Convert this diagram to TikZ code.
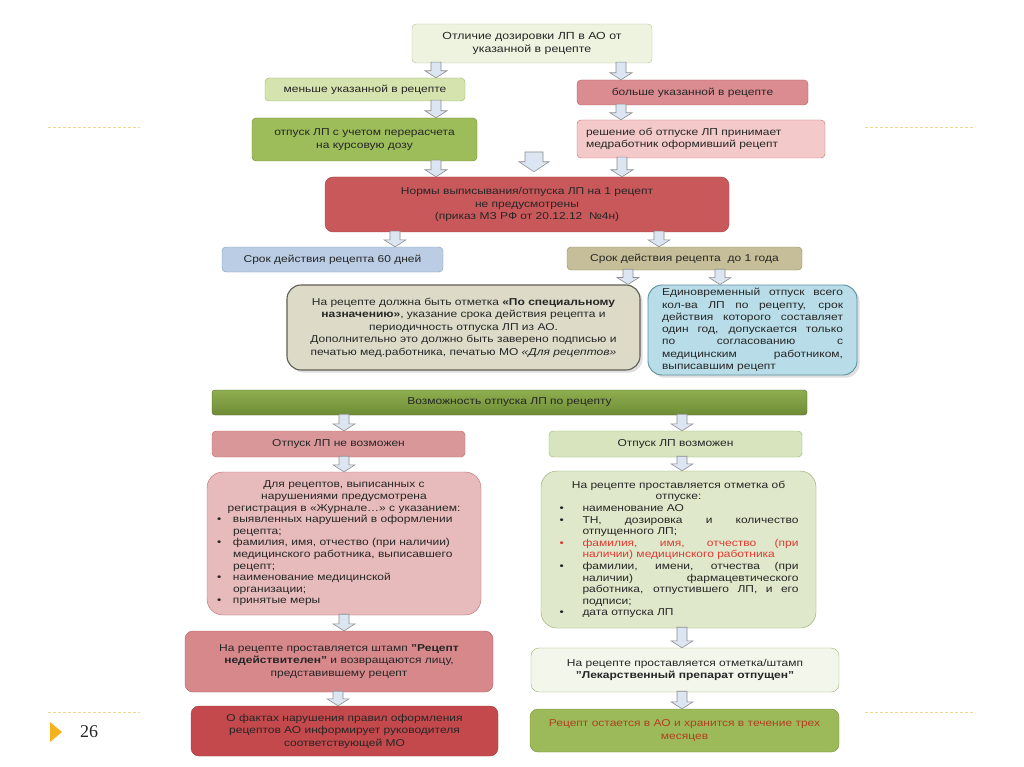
\documentclass[tikz,border=0pt]{standalone}
\usepackage{fontspec}
\setmainfont{Liberation Sans}[FakeStretch=1.2]
\newfontfamily\numfont{Liberation Serif}
\usetikzlibrary{calc,shadows}

\definecolor{textdark}{HTML}{262626}
\definecolor{redtext}{HTML}{E03A32}
\definecolor{brownred}{HTML}{B0401E}
\definecolor{arrowfill}{HTML}{DCE6F2}
\definecolor{arrowline}{HTML}{8C8C8C}
\definecolor{decoline}{HTML}{F0D98C}
\definecolor{marker}{HTML}{F4B21C}
\definecolor{palefill}{HTML}{EEF3E0}
\definecolor{paleline}{HTML}{B5C39A}
\definecolor{lightgreen}{HTML}{D5E3AE}
\definecolor{greenline}{HTML}{9DB26E}
\definecolor{rosefill}{HTML}{DA8C90}
\definecolor{roseline}{HTML}{B55A5E}
\definecolor{greenfill}{HTML}{9DBC5A}
\definecolor{darkgreenline}{HTML}{6E8A36}
\definecolor{pinkfill}{HTML}{F3C9C9}
\definecolor{pinkline}{HTML}{C96A6C}
\definecolor{redfill}{HTML}{C9585B}
\definecolor{redline}{HTML}{A54446}
\definecolor{bluefill}{HTML}{BACDE4}
\definecolor{blueline}{HTML}{7F9BBE}
\definecolor{khakifill}{HTML}{C5BE98}
\definecolor{khakiline}{HTML}{958B57}
\definecolor{stonefill}{HTML}{DDDBC8}
\definecolor{stoneline}{HTML}{5E5E52}
\definecolor{tealfill}{HTML}{B8DDE8}
\definecolor{tealline}{HTML}{5B8F9C}
\definecolor{bartop}{HTML}{8FAE4F}
\definecolor{barbottom}{HTML}{6F8C36}
\definecolor{barline}{HTML}{4F6425}
\definecolor{nofill}{HTML}{DA979A}
\definecolor{noline}{HTML}{B8696C}
\definecolor{yesfill}{HTML}{D7E4BD}
\definecolor{regfill}{HTML}{E7BBBB}
\definecolor{regline}{HTML}{C0686A}
\definecolor{markfill}{HTML}{DFE8CA}
\definecolor{markline}{HTML}{8FA860}
\definecolor{stampfill}{HTML}{D7888B}
\definecolor{stampline}{HTML}{B15F62}
\definecolor{issuedfill}{HTML}{F3F6EA}
\definecolor{reportfill}{HTML}{C4494C}
\definecolor{reportline}{HTML}{9E3A3C}
\definecolor{keptfill}{HTML}{9CBA5A}
\definecolor{keptline}{HTML}{738F3B}

% bullet item with hanging indent
\newcommand{\itm}[1][22pt]{\par\hangindent=#1\hangafter=1\noindent\makebox[#1][l]{\hspace{1pt}\textbullet}\ignorespaces}

% hollow block arrow between two boxes at a given x
\newcommand{\blockarrow}[3]{%
  \path[blockarrow] let \p1=(#1.south -| #3,0), \p2=(#2.north -| #3,0) in
    (\x1-5pt,\y1+1pt) -- (\x1-5pt,\y2+7pt) -- (\x1-11pt,\y2+7pt) -- (\x1,\y2)
    -- (\x1+11pt,\y2+7pt) -- (\x1+5pt,\y2+7pt) -- (\x1+5pt,\y1+1pt) -- cycle;}

\tikzset{
  box/.style={draw, rounded corners=4pt, align=center, inner sep=2pt, text=textdark,
    font=\fontsize{10}{12.5}\selectfont},
  bigbox/.style={box, rounded corners=16pt, font=\fontsize{10}{11.6}\selectfont},
  blockarrow/.style={draw=arrowline, fill=arrowfill, line width=0.6pt},
  deco/.style={draw=decoline, dash pattern=on 3pt off 2pt, line width=0.8pt}
}

\begin{document}
\begin{tikzpicture}[x=1pt, y=-1pt]
  \useasboundingbox[fill=white] (0,0) rectangle (1024,767);

  % slide decoration
  \draw[deco] (48,127) -- (140,127);
  \draw[deco] (865,127) -- (975,127);
  \draw[deco] (48,712) -- (140,712);
  \draw[deco] (865,712) -- (975,712);
  \fill[marker] (50,722) -- (62,732) -- (50,742) -- cycle;
  \node[font=\numfont\fontsize{18}{20}\selectfont, text=textdark] (pagenum) at (89,732) {26};

  % dosage
  \node[box, fill=palefill, draw=paleline, minimum width=240pt, minimum height=39pt,
    font=\fontsize{10.3}{13}\selectfont] (diff) at (532,43.5)
    {Отличие дозировки ЛП в АО от\\ указанной в рецепте};
  \node[box, fill=lightgreen, draw=greenline, minimum width=200pt, minimum height=23pt] (less) at (365,89.5)
    {меньше указанной в рецепте};
  \node[box, fill=rosefill, draw=roseline, minimum width=231pt, minimum height=25pt] (more) at (692.5,92.5)
    {больше указанной в рецепте};
  \node[box, fill=greenfill, draw=darkgreenline, minimum width=225pt, minimum height=43pt] (recalc) at (364.5,139.5)
    {отпуск ЛП с учетом перерасчета\\ на курсовую дозу};
  \node[box, fill=pinkfill, draw=pinkline, minimum width=248pt, minimum height=38pt, text width=230pt, align=left] (decision) at (701,139)
    {решение об отпуске ЛП принимает\\ медработник оформивший рецепт};

  % norms
  \node[box, rounded corners=8pt, fill=redfill, draw=redline, minimum width=404pt, minimum height=55pt] (norms) at (527,204.5)
    {Нормы выписывания/отпуска ЛП на 1 рецепт\\ не предусмотрены\\ (приказ МЗ РФ от 20.12.12 \ №4н)};
  \node[box, fill=bluefill, draw=blueline, minimum width=221pt, minimum height=25pt] (sixty) at (332.5,259.5)
    {Срок действия рецепта 60 дней};
  \node[box, fill=khakifill, draw=khakiline, minimum width=235pt, minimum height=23pt] (year) at (684.5,258.5)
    {Срок действия рецепта \ до 1 года};
  \node[box, rounded corners=14pt, fill=stonefill, draw=stoneline, line width=1.1pt,
    drop shadow={opacity=0.25}, minimum width=353pt, minimum height=85pt] (special) at (463.5,327.5)
    {На рецепте должна быть отметка \textbf{«По специальному}\\
     \textbf{назначению»}, указание срока действия рецепта и\\
     периодичность отпуска ЛП из АО.\\
     Дополнительно это должно быть заверено подписью и\\
     печатью мед.работника, печатью МО \textit{«Для рецептов»}};
  \node[box, rounded corners=14pt, fill=tealfill, draw=tealline, line width=0.9pt,
    drop shadow={opacity=0.25}, minimum width=209pt, minimum height=90pt, text width=181pt, align=justify,
    font=\fontsize{10}{12.3}\selectfont] (once) at (752.5,330)
    {Единовременный отпуск всего\linebreak
     кол-ва ЛП по рецепту, срок\linebreak
     действия которого составляет\linebreak
     один год, допускается только\linebreak
     по согласованию с\linebreak
     медицинским работником,\linebreak
     выписавшим рецепт};

  % dispensing
  \node[box, rounded corners=3pt, top color=bartop, bottom color=barbottom, draw=barline,
    minimum width=595pt, minimum height=25pt] (chance) at (509.5,402.5)
    {Возможность отпуска ЛП по рецепту};
  \node[box, fill=nofill, draw=noline, minimum width=253pt, minimum height=26pt] (denied) at (338.5,444)
    {Отпуск ЛП не возможен};
  \node[box, fill=yesfill, draw=greenline, minimum width=253pt, minimum height=26pt] (allowed) at (675.5,444)
    {Отпуск ЛП возможен};

  \node[bigbox, fill=regfill, draw=regline, minimum width=274pt, minimum height=143pt,
    text width=256pt, align=left] (register) at (344,543.5)
    {{\centering Для рецептов, выписанных с\\ нарушениями предусмотрена\\ регистрация в «Журнале…» с указанием:\par}
     \itm[17pt] выявленных нарушений в оформлении\newline рецепта;
     \itm[17pt] фамилия, имя, отчество (при наличии)\newline медицинского работника, выписавшего\newline рецепт;
     \itm[17pt] наименование медицинской\newline организации;
     \itm[17pt] принятые меры};
  \node[bigbox, fill=markfill, draw=markline, minimum width=275pt, minimum height=157pt,
    text width=240pt, align=justify] (markbox) at (678.5,549.5)
    {{\centering На рецепте проставляется отметка об\\ отпуске:\par}
     \itm[24pt] наименование АО
     \itm[24pt] ТН, дозировка и количество\linebreak отпущенного ЛП;
     \par\color{redtext}\itm[24pt] фамилия, имя, отчество (при\linebreak наличии) медицинского работника
     \par\color{textdark}\itm[24pt] фамилии, имени, отчества (при\linebreak наличии) фармацевтического\linebreak работника, отпустившего ЛП, и его\linebreak подписи;
     \itm[24pt] дата отпуска ЛП};

  \node[box, rounded corners=8pt, fill=stampfill, draw=stampline, minimum width=308pt, minimum height=61pt] (stampbox) at (339,661.5)
    {На рецепте проставляется штамп \textbf{"Рецепт}\\
     \textbf{недействителен"} и возвращаются лицу,\\
     представившему рецепт};
  \node[box, rounded corners=8pt, fill=issuedfill, draw=greenline, minimum width=308pt, minimum height=44pt] (issued) at (685,670)
    {На рецепте проставляется отметка/штамп\\ \textbf{"Лекарственный препарат отпущен"}};
  \node[box, rounded corners=8pt, fill=reportfill, draw=reportline, minimum width=307pt, minimum height=50pt] (report) at (344.5,731)
    {О фактах нарушения правил оформления\\ рецептов АО информирует руководителя\\ соответствующей МО};
  \node[box, rounded corners=8pt, fill=keptfill, draw=keptline, minimum width=309pt, minimum height=43pt,
    text=brownred] (kept) at (684.5,730.5)
    {Рецепт остается в АО и хранится в течение трех\\ месяцев};

  % arrows
  \blockarrow{diff}{less}{436}
  \blockarrow{diff}{more}{621}
  \blockarrow{less}{recalc}{436}
  \blockarrow{more}{decision}{621}
  \blockarrow{recalc}{norms}{436}
  \blockarrow{decision}{norms}{622}
  \coordinate (gap) at (534,152);
  \path[blockarrow] let \p1=(gap), \p2=([yshift=5pt]norms.north -| gap) in
    (\x1-9pt,\y1) -- (\x1-9pt,\y2+10pt) -- (\x1-15pt,\y2+10pt) -- (\x1,\y2)
    -- (\x1+15pt,\y2+10pt) -- (\x1+9pt,\y2+10pt) -- (\x1+9pt,\y1) -- cycle;
  \blockarrow{norms}{sixty}{395}
  \blockarrow{norms}{year}{659}
  \blockarrow{year}{special}{628}
  \blockarrow{year}{once}{720}
  \blockarrow{chance}{denied}{344}
  \blockarrow{chance}{allowed}{682}
  \blockarrow{denied}{register}{344}
  \blockarrow{allowed}{markbox}{682}
  \blockarrow{register}{stampbox}{344}
  \blockarrow{markbox}{issued}{682}
  \blockarrow{stampbox}{report}{338}
  \blockarrow{issued}{kept}{682}
\end{tikzpicture}
\end{document}
